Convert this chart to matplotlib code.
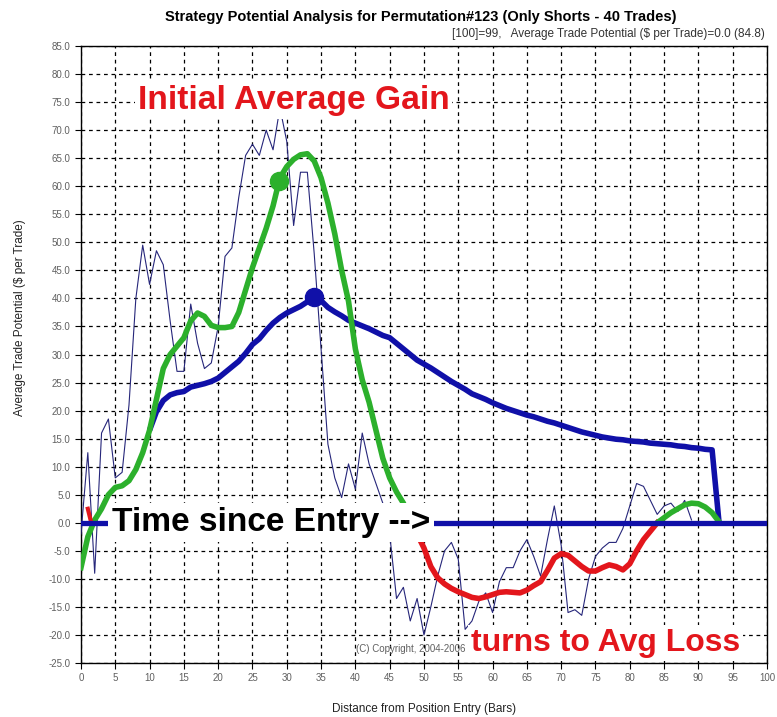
import numpy as np
import matplotlib
matplotlib.use('Agg')
from matplotlib import pyplot as plt

plt.rcParams['font.family'] = ['Liberation Sans', 'DejaVu Sans']

# per-bar trade potential (thin line), bars 0..89
bar_potential = [-2, 12.5, -9, 16, 18.5, 8, 9, 21, 40, 49.5,
                 42.5, 48.5, 46, 36, 27, 27, 39, 32, 27.5, 28.5,
                 35, 47.5, 49, 58, 65.5, 67.5, 65.5, 70, 66.5, 74,
                 68, 53, 62.5, 62.5, 48, 31, 14, 8, 4.5, 10.5,
                 6, 16, 10.5, 7, 3.5, -2, -13.5, -11.5, -17.5, -13.5,
                 -20, -15, -9.5, -5, -3.5, -6.5, -19, -17.5, -14, -12.5,
                 -16, -10.5, -8, -8, -5, -3, -6, -9.5, -3, 3,
                 -4, -16, -15.5, -16.5, -10, -6, -4.5, -3.5, -3.5, -1,
                 3, 7, 6.5, 4, 1.5, 3, 3.5, 2, 4, 0.5]

# average potential (thick line), bars 0..93
avg_potential = [-8, -2.5, 0.5, 2.5, 5, 6.3, 6.6, 7.5, 9.5, 12.5,
                 16.5, 22, 27.5, 30, 31.5, 33, 36, 37.4, 36.8, 35.2,
                 34.8, 34.8, 35, 37.5, 41.5, 45.5, 49, 52.5, 56.5, 61.5,
                 63.5, 64.8, 65.6, 65.8, 64.5, 61.5, 57, 51.5, 45, 39.5,
                 31, 25.5, 21.5, 16.5, 11.5, 8, 5.5, 3.5, 0.5, -2,
                 -4.5, -7.8, -9.8, -10.9, -11.7, -12.3, -12.8, -13.3, -13.5, -13.2,
                 -12.8, -12.4, -12.3, -12.4, -12.5, -12.0, -11.2, -10.5, -8.5, -6.3,
                 -5.5, -5.8, -6.8, -7.8, -8.6, -8.6, -8.0, -7.5, -7.8, -8.4,
                 -7.3, -5.0, -3.0, -1.5, 0, 0.9, 1.8, 2.5, 3.2, 3.5,
                 3.4, 2.8, 1.8, 0.2]
gain_end = 48   # first green part ends here
loss_end = 84   # red part ends here

# running potential (thick blue line), bars 10..93
run_start = 10
run_potential = [16.5, 19.8, 21.8, 22.8, 23.2, 23.4, 24.2, 24.5, 24.8, 25.2,
                 25.8, 26.8, 27.8, 28.8, 30.2, 31.8, 32.8, 34.3, 35.6, 36.6,
                 37.4, 38.0, 38.6, 39.4, 40.2, 39.6, 38.4, 37.6, 36.9, 36.1,
                 35.6, 35.1, 34.6, 34.0, 33.4, 33.0, 32.0, 31.0, 30.0, 29.0,
                 28.3, 27.6, 26.8, 26.0, 25.2, 24.5, 23.8, 23.0, 22.5, 22.0,
                 21.4, 20.9, 20.4, 20.0, 19.6, 19.2, 18.9, 18.5, 18.1, 17.8,
                 17.4, 17.0, 16.6, 16.2, 15.9, 15.6, 15.3, 15.1, 14.9, 14.8,
                 14.6, 14.5, 14.4, 14.2, 14.1, 14.0, 13.9, 13.7, 13.6, 13.4,
                 13.3, 13.1, 13.0, 0.2]

early_loss_x = [1.0, 1.5]
early_loss_y = [2.5, 0.0]

gain_dot = (28.8, 61.0)
run_dot = (34.0, 40.3)

NAVY = '#26267a'
BLUE = '#1010a8'
GREEN = '#2cb02c'
RED = '#e3161c'
GREY = '#606060'

fig = plt.figure(figsize=(7.77, 7.17), dpi=100)
ax = fig.add_axes([0.1042, 0.0753, 0.8829, 0.8605])

x_bar = np.arange(len(bar_potential))
x_avg = np.arange(len(avg_potential))
x_run = np.arange(run_start, run_start + len(run_potential))
avg = np.array(avg_potential)

ax.plot(x_bar, bar_potential, color=NAVY, lw=0.8, zorder=3)
ax.plot(x_run, run_potential, color=BLUE, lw=4, zorder=4, solid_capstyle='butt')
ax.plot(x_avg[:gain_end + 1], avg[:gain_end + 1], color=GREEN, lw=4, zorder=5)
ax.plot(x_avg[gain_end:loss_end + 1], avg[gain_end:loss_end + 1], color=RED, lw=4, zorder=5)
ax.plot(x_avg[loss_end:], avg[loss_end:], color=GREEN, lw=4, zorder=5)
ax.plot(early_loss_x, early_loss_y, color=RED, lw=3, zorder=5)
ax.axhline(0, color=BLUE, lw=3.8, zorder=6)
ax.plot(*gain_dot, 'o', color=GREEN, ms=13, zorder=7)
ax.plot(*run_dot, 'o', color=BLUE, ms=13, zorder=7)

ax.set_xlim(0, 100)
ax.set_ylim(-25, 85)
ax.set_xticks(np.arange(0, 101, 5))
ax.set_yticks(np.arange(-25, 86, 5))
ax.set_yticklabels(['%.1f' % v for v in np.arange(-25, 86, 5)])
ax.tick_params(axis='both', labelsize=7, labelcolor=GREY, direction='out', length=4, width=0.8)
ax.grid(True, color='black', ls=(0, (3, 3)), lw=0.9, zorder=1)
for s in ax.spines.values():
    s.set_linewidth(1)

ax.set_xlabel('Distance from Position Entry (Bars)', fontsize=8.5, labelpad=14, color='#222222')
ax.set_ylabel('Average Trade Potential ($ per Trade)', fontsize=8.5, color='#222222')
ax.yaxis.set_label_coords(-0.08, 0.56)

fig.text(0.541, 0.976, 'Strategy Potential Analysis for Permutation#123 (Only Shorts - 40 Trades)',
         ha='center', va='center', fontsize=10.5, fontweight='bold')
fig.text(0.985, 0.952, '[100]=99,   Average Trade Potential ($ per Trade)=0.0 (84.8)',
         ha='right', va='center', fontsize=8.5, color='#333333')

box = dict(facecolor='white', edgecolor='none', pad=2)
ax.text(8.3, 75.3, 'Initial Average Gain', color=RED, fontsize=24.2, fontweight='bold',
        va='center', ha='left', bbox=box, zorder=8)
ax.text(4.5, 0, 'Time since Entry -->', color='black', fontsize=24.1, fontweight='bold',
        va='center', ha='left', bbox=dict(facecolor='white', edgecolor='none', pad=3), zorder=8)
ax.text(56.8, -21.4, 'turns to Avg Loss', color=RED, fontsize=23, fontweight='bold',
        va='center', ha='left', bbox=box, zorder=8)
ax.text(56.0, -22.5, '(C) Copyright, 2004-2006', color=GREY, fontsize=7,
        va='center', ha='right', zorder=9)

fig.savefig('out.png', dpi=100)
